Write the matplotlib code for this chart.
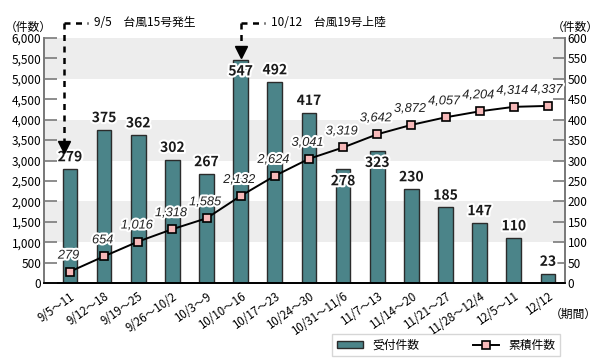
import matplotlib
matplotlib.use("Agg")
import matplotlib.pyplot as plt
import matplotlib.patheffects as pe
import matplotlib.transforms as mtransforms
from matplotlib.patches import Patch
from matplotlib.lines import Line2D
from matplotlib.ticker import FuncFormatter, MultipleLocator

plt.rcParams['font.family'] = ['Noto Sans CJK JP', 'DejaVu Sans']

# data
periods = ['9/5～11', '9/12～18', '9/19～25', '9/26～10/2', '10/3～9', '10/10～16',
           '10/17～23', '10/24～30', '10/31～11/6', '11/7～13', '11/14～20',
           '11/21～27', '11/28～12/4', '12/5～11', '12/12']
weekly = [279, 375, 362, 302, 267, 547, 492, 417, 278, 323, 230, 185, 147, 110, 23]
cumulative = [279, 654, 1016, 1318, 1585, 2132, 2624, 3041, 3319, 3642, 3872,
              4057, 4204, 4314, 4337]
# labels drawn inside the bar top instead of above it
inside_labels = [547, 278, 323]
events = [(-0.17, '9/5　台風15号発生', 1 - 152 / 360),
          (5, '10/12　台風19号上陸', 1 - 57 / 360)]

bar_color = '#4b8489'
band_color = '#ededed'
axis_gray = '#7a7a7a'

fig = plt.figure(figsize=(6, 3.6), dpi=100)
ax = fig.add_axes([44 / 600, 1 - 283 / 360, (565 - 44) / 600, (283 - 38) / 360])
ax2 = ax.twinx()

x = list(range(len(periods)))

# bars on right axis (件数 per week)
for lo in (100, 300, 500):
    ax2.axhspan(lo, lo + 100, color=band_color, zorder=0, lw=0)
ax2.bar(x, weekly, width=0.43, color=bar_color, edgecolor='#2b2b2b', linewidth=1.0, zorder=2)
white = [pe.withStroke(linewidth=3, foreground='white')]
for i, v in enumerate(weekly):
    off = -8.5 if v in inside_labels else 8.5
    ax2.annotate(str(v), (i, v), xytext=(0, off), textcoords='offset points',
                 ha='center', va='center', fontsize=10, fontweight='bold',
                 color='#1a1a1a', path_effects=white, zorder=5)

# cumulative line on left axis
ax.set_zorder(ax2.get_zorder() + 1)
ax.patch.set_visible(False)
ax.plot(x, cumulative, color='black', lw=1.4, marker='s', markersize=6,
        markerfacecolor='#f7b9b9', markeredgecolor='black', markeredgewidth=1.2, zorder=4)
for i, v in enumerate(cumulative):
    ax.annotate(f'{v:,}', (i, v), xytext=(-1, 11.5), textcoords='offset points',
                ha='center', va='center', fontsize=9.2, style='italic',
                family=['Liberation Sans', 'DejaVu Sans'], color='#222',
                path_effects=white, zorder=5)

ax.set_xlim(-0.76, 14.5)
ax.set_ylim(0, 6000)
ax2.set_ylim(0, 600)
ax.yaxis.set_major_locator(MultipleLocator(500))
ax.yaxis.set_major_formatter(FuncFormatter(lambda v, p: f'{int(v):,}'))
ax2.yaxis.set_major_locator(MultipleLocator(50))

ax.set_xticks(x)
ax.set_xticklabels(periods, rotation=35, ha='right', rotation_mode='anchor', fontsize=8.3)
ax.tick_params(axis='x', length=0, pad=5)
ax.tick_params(axis='y', direction='in', length=9.5, width=1.2, color=axis_gray,
               labelsize=8.5, pad=2)
ax2.tick_params(axis='y', direction='in', length=9, width=1.2, color=axis_gray,
                labelsize=8.5, pad=2)

for a in (ax, ax2):
    a.spines['top'].set_visible(False)
    a.spines['left'].set_color(axis_gray)
    a.spines['right'].set_color(axis_gray)
    a.spines['left'].set_linewidth(1.3)
    a.spines['right'].set_linewidth(1.3)
    a.spines['bottom'].set_color('black')
    a.spines['bottom'].set_linewidth(1.3)

fig.text(5 / 600, 1 - 27 / 360, '（件数）', fontsize=8.5, va='center', ha='left')
fig.text(599 / 600, 1 - 27 / 360, '（件数）', fontsize=8.5, va='center', ha='right')
fig.text(597 / 600, 1 - 314 / 360, '（期間）', fontsize=8.5, va='center', ha='right')

# typhoon event markers
tr = mtransforms.blended_transform_factory(ax.transData, fig.transFigure)
top = 1 - 23 / 360
px = (14.5 + 0.76) / (565 - 44)
for ex, label, tip in events:
    ax.plot([ex, ex], [top, tip + 10 / 360], transform=tr, color='black', lw=1.8,
            linestyle=(0, (2.4, 2.2)), clip_on=False, zorder=6)
    ax.plot([ex, ex + 24 * px], [top, top], transform=tr, color='black', lw=1.8,
            linestyle=(0, (2.4, 2.2)), clip_on=False, zorder=6)
    ax.plot([ex], [tip + 5 / 360], transform=tr, marker='v', markersize=9,
            color='black', clip_on=False, zorder=6)
    ax.text(ex + 30 * px, top, label, transform=tr, fontsize=8.5, va='center', ha='left')

handles = [Patch(facecolor=bar_color, edgecolor='#2b2b2b', linewidth=1.0),
           Line2D([0], [0], color='black', lw=1.4, marker='s', markersize=6,
                  markerfacecolor='#f7b9b9', markeredgecolor='black', markeredgewidth=1.2)]
leg = fig.legend(handles, ['受付件数', '累積件数'], loc='center',
                 bbox_to_anchor=(446 / 600, 1 - 345 / 360), ncol=2, fontsize=8.5,
                 frameon=True, fancybox=False, edgecolor='#cccccc',
                 handlelength=2.2, handleheight=0.6, columnspacing=4.5,
                 borderpad=0.4, handletextpad=0.8)
leg.get_frame().set_linewidth(1.0)

fig.savefig('out.png', dpi=100)
